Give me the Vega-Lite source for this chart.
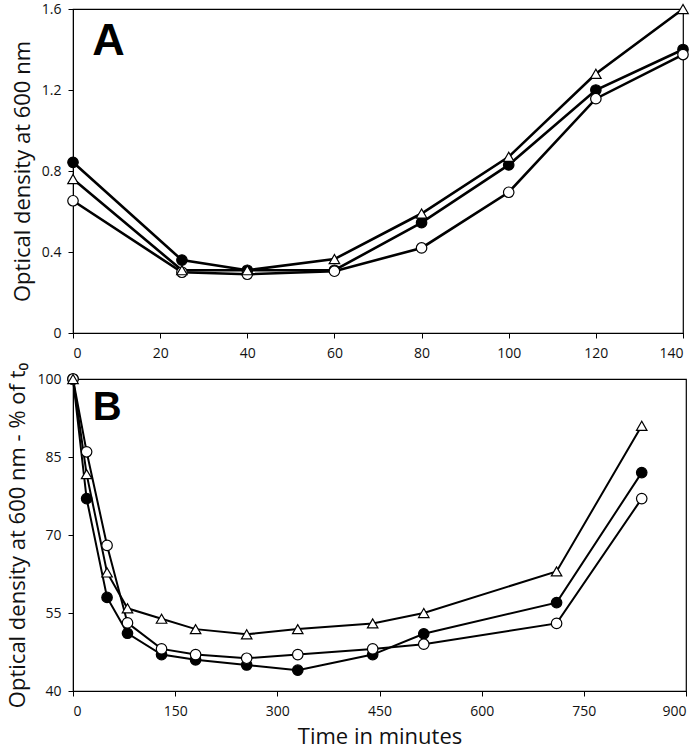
{
  "$schema": "https://vega.github.io/schema/vega-lite/v6.json",
  "background": "white",
  "padding": {"left": 6, "top": 1, "right": 10, "bottom": 0},
  "spacing": 0,
  "config": {
    "font": "Open Sans",
    "view": {"stroke": "black", "strokeWidth": 1.2},
    "axis": {
      "grid": false,
      "domainColor": "black",
      "tickColor": "black",
      "tickSize": 5,
      "labelFont": "Open Sans",
      "labelFontSize": 14,
      "labelColor": "#111",
      "titleFont": "Open Sans",
      "titleFontWeight": "normal",
      "titleFontSize": 22,
      "titleColor": "#111"
    },
    "axisX": {"labelPadding": 8},
    "axisY": {"labelPadding": 7}
  },
  "datasets": {
    "a": [
      {"t": 0, "s": "filled", "v": 0.843},
      {"t": 25, "s": "filled", "v": 0.36},
      {"t": 40, "s": "filled", "v": 0.31},
      {"t": 60, "s": "filled", "v": 0.31},
      {"t": 80, "s": "filled", "v": 0.545},
      {"t": 100, "s": "filled", "v": 0.83},
      {"t": 120, "s": "filled", "v": 1.2},
      {"t": 140, "s": "filled", "v": 1.4},
      {"t": 0, "s": "open", "v": 0.653},
      {"t": 25, "s": "open", "v": 0.3},
      {"t": 40, "s": "open", "v": 0.29},
      {"t": 60, "s": "open", "v": 0.305},
      {"t": 80, "s": "open", "v": 0.42},
      {"t": 100, "s": "open", "v": 0.695},
      {"t": 120, "s": "open", "v": 1.157},
      {"t": 140, "s": "open", "v": 1.375},
      {"t": 0, "s": "triangle", "v": 0.76},
      {"t": 25, "s": "triangle", "v": 0.31},
      {"t": 40, "s": "triangle", "v": 0.31},
      {"t": 60, "s": "triangle", "v": 0.365},
      {"t": 80, "s": "triangle", "v": 0.59},
      {"t": 100, "s": "triangle", "v": 0.87},
      {"t": 120, "s": "triangle", "v": 1.28},
      {"t": 140, "s": "triangle", "v": 1.6}
    ],
    "b": [
      {"t": 0, "s": "filled", "v": 100},
      {"t": 20, "s": "filled", "v": 77},
      {"t": 50, "s": "filled", "v": 58},
      {"t": 80, "s": "filled", "v": 51.1},
      {"t": 130, "s": "filled", "v": 47},
      {"t": 180, "s": "filled", "v": 46},
      {"t": 255, "s": "filled", "v": 45},
      {"t": 330, "s": "filled", "v": 44},
      {"t": 440, "s": "filled", "v": 47},
      {"t": 515, "s": "filled", "v": 51},
      {"t": 710, "s": "filled", "v": 57},
      {"t": 835, "s": "filled", "v": 82},
      {"t": 0, "s": "open", "v": 100},
      {"t": 20, "s": "open", "v": 86},
      {"t": 50, "s": "open", "v": 68},
      {"t": 80, "s": "open", "v": 53.1},
      {"t": 130, "s": "open", "v": 48.1},
      {"t": 180, "s": "open", "v": 47},
      {"t": 255, "s": "open", "v": 46.3},
      {"t": 330, "s": "open", "v": 47},
      {"t": 440, "s": "open", "v": 48.1},
      {"t": 515, "s": "open", "v": 49},
      {"t": 710, "s": "open", "v": 53},
      {"t": 835, "s": "open", "v": 77},
      {"t": 0, "s": "triangle", "v": 100},
      {"t": 20, "s": "triangle", "v": 81.7},
      {"t": 50, "s": "triangle", "v": 62.8},
      {"t": 80, "s": "triangle", "v": 55.9},
      {"t": 130, "s": "triangle", "v": 53.9},
      {"t": 180, "s": "triangle", "v": 51.9},
      {"t": 255, "s": "triangle", "v": 50.9},
      {"t": 330, "s": "triangle", "v": 51.9},
      {"t": 440, "s": "triangle", "v": 53},
      {"t": 515, "s": "triangle", "v": 55},
      {"t": 710, "s": "triangle", "v": 63},
      {"t": 835, "s": "triangle", "v": 91}
    ],
    "labA": [{"t": 4.4, "v": 1.373, "txt": "A"}],
    "labB": [{"t": 29, "v": 92.1, "txt": "B"}]
  },
  "vconcat": [
    {
      "width": 610,
      "height": 324,
      "layer": [
        {
          "data": {"name": "a"},
          "mark": {"type": "line", "color": "black", "strokeWidth": 2.6},
          "encoding": {
            "x": {"field": "t", "type": "quantitative", "scale": {"domain": [0, 140], "nice": false}, "axis": {"values": [0, 20, 40, 60, 80, 100, 120, 140], "title": null}},
            "y": {"field": "v", "type": "quantitative", "scale": {"domain": [0, 1.6], "nice": false}, "axis": {"values": [0, 0.4, 0.8, 1.2, 1.6], "labelExpr": "datum.value == 0 ? '0' : format(datum.value, '.1f')", "title": "Optical density at 600 nm", "titlePadding": 7}},
            "detail": {"field": "s"},
            "order": {"field": "t"}
          }
        },
        {
          "data": {"name": "a"},
          "mark": {"type": "point", "filled": true, "stroke": "black", "strokeWidth": 1.2, "size": 110, "opacity": 1},
          "encoding": {
            "x": {"field": "t", "type": "quantitative"},
            "y": {"field": "v", "type": "quantitative"},
            "shape": {"field": "s", "type": "nominal", "scale": {"domain": ["filled", "open", "triangle"], "range": ["circle", "circle", "triangle-up"]}, "legend": null},
            "fill": {"field": "s", "type": "nominal", "scale": {"domain": ["filled", "open", "triangle"], "range": ["black", "white", "white"]}, "legend": null}
          }
        },
        {
          "data": {"name": "labA"},
          "mark": {"type": "text", "font": "Liberation Sans", "fontWeight": "bold", "fontSize": 45, "align": "left", "baseline": "alphabetic", "color": "black"},
          "encoding": {
            "x": {"field": "t", "type": "quantitative"},
            "y": {"field": "v", "type": "quantitative"},
            "text": {"field": "txt"}
          }
        }
      ]
    },
    {
      "width": 613,
      "height": 312,
      "layer": [
        {
          "data": {"name": "b"},
          "mark": {"type": "line", "color": "black", "strokeWidth": 2},
          "encoding": {
            "x": {"field": "t", "type": "quantitative", "scale": {"domain": [0, 900], "nice": false}, "axis": {"values": [0, 150, 300, 450, 600, 750, 900], "title": "Time in minutes", "titlePadding": 8}},
            "y": {"field": "v", "type": "quantitative", "scale": {"domain": [40, 100], "nice": false, "zero": false}, "axis": {"values": [40, 55, 70, 85, 100], "title": "Optical density at 600 nm - % of t₀", "titlePadding": 7}},
            "detail": {"field": "s"},
            "order": {"field": "t"}
          }
        },
        {
          "data": {"name": "b"},
          "mark": {"type": "point", "filled": true, "stroke": "black", "strokeWidth": 1.2, "size": 110, "opacity": 1},
          "encoding": {
            "x": {"field": "t", "type": "quantitative"},
            "y": {"field": "v", "type": "quantitative"},
            "shape": {"field": "s", "type": "nominal", "scale": {"domain": ["filled", "open", "triangle"], "range": ["circle", "circle", "triangle-up"]}, "legend": null},
            "fill": {"field": "s", "type": "nominal", "scale": {"domain": ["filled", "open", "triangle"], "range": ["black", "white", "white"]}, "legend": null}
          }
        },
        {
          "data": {"name": "labB"},
          "mark": {"type": "text", "font": "Liberation Sans", "fontWeight": "bold", "fontSize": 40, "align": "left", "baseline": "alphabetic", "color": "black"},
          "encoding": {
            "x": {"field": "t", "type": "quantitative"},
            "y": {"field": "v", "type": "quantitative"},
            "text": {"field": "txt"}
          }
        }
      ]
    }
  ]
}
